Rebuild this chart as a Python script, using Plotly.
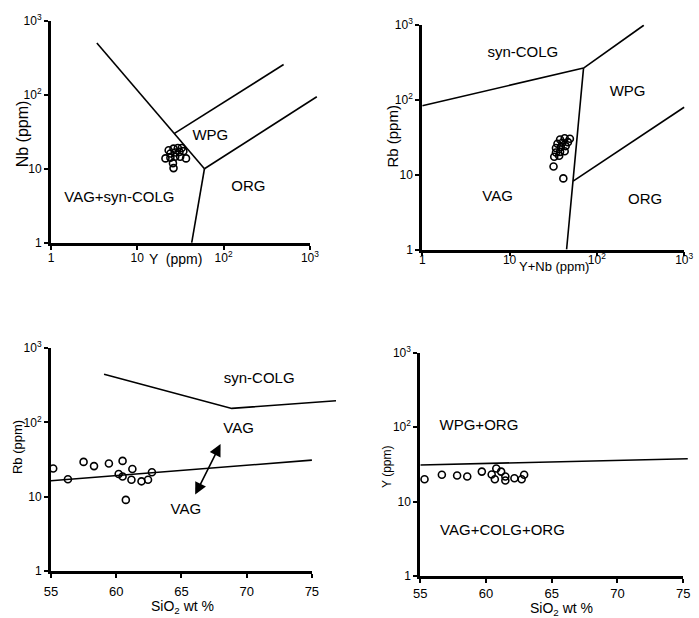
import numpy as np
import plotly.graph_objects as go

W, H = 699, 618
FONT = "Liberation Sans, Arial, Helvetica, sans-serif"

# ---------------- data ----------------
# Panel 1: Nb vs Y
p1_y = [23.1, 26.3, 29.5, 32.7, 24.2, 27.5, 30.8, 34.2, 21.2, 24.2, 27.5, 31.4, 36.7, 25.9, 26.3]
p1_nb = [17.8, 18.7, 19.1, 19.1, 16.1, 16.6, 16.9, 17.3, 13.8, 14.1, 14.5, 14.5, 13.8, 11.9, 10.2]
# Panel 2: Rb vs Y+Nb
p2_ynb = [37.9, 42.8, 49.1, 35.4, 40.2, 46.6, 34.0, 38.6, 43.9, 34.0, 37.9, 42.8, 32.5, 37.0, 31.9, 41.3]
p2_rb = [29.4, 30.5, 30.0, 25.8, 26.6, 27.1, 22.6, 23.3, 24.0, 19.7, 20.1, 20.5, 17.3, 17.8, 12.8, 8.9]
# Panel 3: Rb vs SiO2
p3_sio2 = [55.17, 54.3, 56.3, 57.5, 58.3, 59.44, 60.49, 60.19, 60.49, 61.24, 61.17, 60.74, 61.94, 62.44, 62.74]
p3_rb = [24.0, 12.9, 17.2, 29.4, 25.8, 27.9, 30.3, 20.2, 18.7, 23.6, 16.9, 9.06, 16.1, 16.9, 21.3]
# Panel 4: Y vs SiO2
p4_sio2 = [55.32, 56.64, 57.8, 58.57, 59.68, 60.43, 60.78, 61.15, 60.67, 61.47, 61.47, 62.16, 62.71, 62.9]
p4_y = [20.0, 22.9, 22.4, 21.7, 25.3, 23.1, 27.9, 25.3, 20.0, 21.7, 19.2, 20.6, 20.0, 22.9]

# Field boundaries (data coordinates)
p1_bounds = [
    ([3.4, 60], [498, 10]),
    ([26.7, 496], [29.8, 256]),
    ([60, 1202], [10, 94]),
    ([60, 42.7], [10, 1]),
]
p2_bounds = [
    ([1, 70.4], [83, 263]),
    ([70.4, 345], [263, 980]),
    ([70.4, 45], [263, 1]),
    ([53.5, 1000], [8.2, 79]),
]
p3_bounds = [
    ([59.07, 68.86, 76.85], [444, 154, 195]),
    ([55, 75], [16.4, 31]),
]
p3_arrow = dict(x0=66.0, y0=10.2, x1=68.0, y1=51.0)
p4_bounds = [
    ([55, 75.35], [31, 37.7]),
]

# Field labels
p1_labels = dict(x=[70.2, 194, 6.2], y=[27.2, 5.6, 4.0], text=["WPG", "ORG", "VAG+syn-COLG"])
p2_labels = dict(x=[14.2, 225, 7.3, 357], y=[420, 127, 5.0, 4.5], text=["syn-COLG", "WPG", "VAG", "ORG"])
p3_labels = dict(x=[70.96, 69.38, 65.34], y=[382, 82, 6.5], text=["syn-COLG", "VAG", "VAG"])
p4_labels = dict(x=[59.46, 61.25], y=[104, 4.0], text=["WPG+ORG", "VAG+COLG+ORG"])

log_tickvals = [1, 10, 100, 1000]
log_ticktext = ["1", "10", "10<sup>2</sup>", "10<sup>3</sup>"]
sio2_ticks = [55, 60, 65, 70, 75]

# ---------------- layout geometry (pixel boxes) ----------------
panels = {
    1: dict(box=(45, 310, 12, 240), xtype="log", xr=(0, 3), ext=30, xfs=12, xso=-2),
    2: dict(box=(425, 693, 16, 247), xtype="log", xr=(0, 3), ext=5, xfs=12, xso=-7),
    3: dict(box=(45, 312, 348, 577), xtype="linear", xr=(55, 75), ext=30, xfs=13, xso=3),
    4: dict(box=(423, 692, 353, 582), xtype="linear", xr=(55, 75), ext=6, xfs=13, xso=0),
}

fig = go.Figure()
layout = dict(
    width=W, height=H, margin=dict(l=0, r=0, t=0, b=0),
    paper_bgcolor="white", plot_bgcolor="rgba(0,0,0,0)",
    showlegend=False, font=dict(family=FONT, color="black", size=12),
)

for i, p in panels.items():
    l, r, t, b = p["box"]
    sfx = "" if i == 1 else str(i)
    xa = dict(
        domain=[l / W, r / W], type=p["xtype"], range=list(p["xr"]),
        anchor="y" + sfx, showline=True, linewidth=2.5, linecolor="black",
        ticks="outside", ticklen=4, tickwidth=1.5, tickcolor="black",
        ticklabelstandoff=p["xso"],
        showgrid=False, zeroline=False, tickfont=dict(size=p["xfs"], family=FONT),
    )
    if p["xtype"] == "log":
        xa.update(tickmode="array", tickvals=log_tickvals, ticktext=log_ticktext)
    else:
        xa.update(tickmode="array", tickvals=sio2_ticks)
    ya = dict(
        domain=[1 - b / H, 1 - t / H], type="log", range=[0, 3],
        anchor="x" + sfx, showline=True, linewidth=3, linecolor="black",
        ticks="outside", ticklen=4, tickwidth=1.5, tickcolor="black",
        showgrid=False, zeroline=False, tickfont=dict(size=12, family=FONT),
        tickmode="array", tickvals=log_tickvals, ticktext=log_ticktext,
    )
    layout["xaxis" + sfx] = xa
    layout["yaxis" + sfx] = ya
    # extended invisible x-axis with identical scale for boundary lines
    x0, x1 = p["xr"]
    ext_end = x1 + (x1 - x0) * p["ext"] / (r - l)
    layout["xaxis" + str(i + 4)] = dict(
        domain=[l / W, (r + p["ext"]) / W], type=p["xtype"], range=[x0, ext_end],
        anchor="y" + sfx, visible=False,
    )

def add_bounds(bounds, i):
    sfx = "" if i == 1 else str(i)
    for bx, by in bounds:
        fig.add_trace(go.Scatter(
            x=bx, y=by, mode="lines", xaxis="x" + str(i + 4), yaxis="y" + sfx,
            line=dict(color="black", width=1.6), hoverinfo="skip",
        ))

def add_points(xs, ys, i):
    sfx = "" if i == 1 else str(i)
    fig.add_trace(go.Scatter(
        x=xs, y=ys, mode="markers", xaxis="x" + sfx, yaxis="y" + sfx,
        marker=dict(symbol="circle-open", size=7, color="black", line=dict(width=1.6)),
        cliponaxis=False,
    ))

def add_labels(lab, i):
    sfx = "" if i == 1 else str(i)
    fig.add_trace(go.Scatter(
        x=lab["x"], y=lab["y"], text=lab["text"], mode="text",
        xaxis="x" + sfx, yaxis="y" + sfx, textposition="middle center",
        textfont=dict(size=15, family=FONT, color="black"), cliponaxis=False,
    ))

add_bounds(p1_bounds, 1)
add_bounds(p2_bounds, 2)
add_bounds(p3_bounds, 3)
add_bounds(p4_bounds, 4)
add_points(p1_y, p1_nb, 1)
add_points(p2_ynb, p2_rb, 2)
add_points(p3_sio2, p3_rb, 3)
add_points(p4_sio2, p4_y, 4)
add_labels(p1_labels, 1)
add_labels(p2_labels, 2)
add_labels(p3_labels, 3)
add_labels(p4_labels, 4)

annotations = [
    dict(x=p3_arrow["x1"], y=np.log10(p3_arrow["y1"]), ax=p3_arrow["x0"], ay=np.log10(p3_arrow["y0"]),
         xref="x3", yref="y3", axref="x3", ayref="y3", text="", showarrow=True,
         arrowside="end+start", arrowhead=2, arrowsize=1.5, arrowwidth=1.6, arrowcolor="black"),
]

titles = [
    ("Nb (ppm)", 16, 128, -90, 16),
    ("Y  (ppm)", 172, 257, 0, 14),
    ("Rb (ppm)", 395, 130, -90, 15),
    ("Y+Nb (ppm)", 560, 264, 0, 13),
    ("Rb (ppm)", 11, 450, -90, 13),
    ("SiO<sub>2</sub> wt %", 180, 614, 0, 14),
    ("Y (ppm)", 389, 470, -90, 12),
    ("SiO<sub>2</sub> wt %", 568, 616, 0, 14),
]
for txt, px, py, ang, fs in titles:
    annotations.append(dict(
        text=txt, x=px / W, y=1 - py / H, xref="paper", yref="paper",
        xanchor="center", yanchor="middle", showarrow=False, textangle=ang,
        font=dict(size=fs, family=FONT, color="black"),
    ))

layout["annotations"] = annotations
fig.update_layout(**layout)
fig.write_html(
    "out.html",
    config={"displayModeBar": False},
    post_script="document.body.style.margin='0px';document.body.style.overflow='hidden';",
)
